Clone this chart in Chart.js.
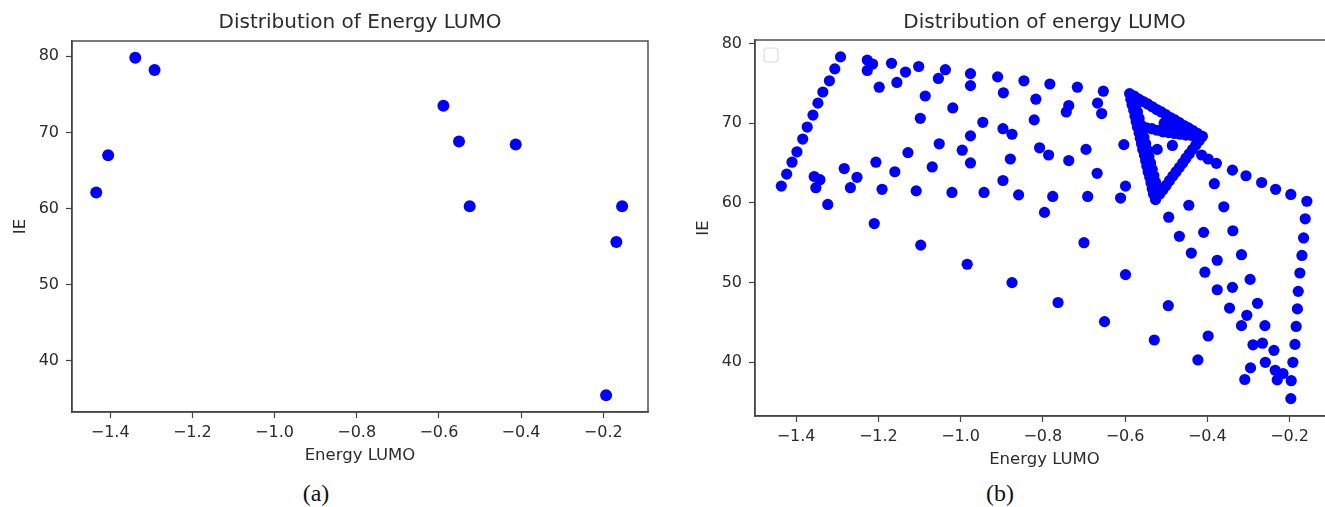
<!DOCTYPE html>
<html>
<head>
<meta charset="utf-8">
<script src="https://cdn.jsdelivr.net/npm/chart.js@4.4.1/dist/chart.umd.min.js"></script>
<style>
  html, body { margin: 0; padding: 0; background: #fff; width: 1325px; height: 507px; overflow: hidden; position: relative; }
  .box { position: absolute; top: 0; }
  .cap { position: absolute; top: 480px; font-family: "Liberation Serif", serif; font-size: 24px; color: #111; line-height: 26px; transform: translateX(-50%); }
</style>
</head>
<body>
<div class="box" style="left:0px;width:660px;height:466px;"><canvas id="ca" width="660" height="466"></canvas></div>
<div class="box" style="left:683px;width:663px;height:470px;"><canvas id="cb" width="663" height="470"></canvas></div>
<div class="cap" style="left:316px;">(a)</div>
<div class="cap" style="left:1000px;">(b)</div>
<script>
// ---- data ----
const titleA = 'Distribution of Energy LUMO';
const titleB = 'Distribution of energy LUMO';
const xLabel = 'Energy LUMO';
const yLabel = 'IE';
const xTickValues = [-1.4, -1.2, -1.0, -0.8, -0.6, -0.4, -0.2];
const xTickLabels = ['\u22121.4', '\u22121.2', '\u22121.0', '\u22120.8', '\u22120.6', '\u22120.4', '\u22120.2'];
const yTickValues = [40, 50, 60, 70, 80];
const yTickLabels = ['40', '50', '60', '70', '80'];

const aLumo = [-1.434, -1.405, -1.339, -1.292, -0.589, -0.551, -0.525, -0.413, -0.193, -0.168, -0.154];
const aIE   = [62.1, 67.0, 79.8, 78.2, 73.5, 68.8, 60.3, 68.4, 35.5, 55.6, 60.3];

const bLumo = [
  // left diagonal
  -1.436, -1.423, -1.410, -1.398, -1.384, -1.373, -1.359, -1.347, -1.335, -1.319, -1.306, -1.292,
  // left / middle region
  -1.356, -1.342, -1.352, -1.323, -1.283, -1.268, -1.252, -1.227, -1.214, -1.227, -1.206, -1.191,
  -1.210, -1.198, -1.168, -1.155, -1.160, -1.134, -1.128, -1.102, -1.108, -1.086, -1.098, -1.097,
  -1.069, -1.054, -1.037, -1.052, -1.019, -1.021, -0.996, -0.984, -0.976, -0.976, -0.976, -0.976,
  -0.946, -0.943, -0.910, -0.896, -0.897, -0.875, -0.879, -0.897, -0.875, -0.859, -0.846, -0.817,
  -0.821, -0.808, -0.786, -0.796, -0.783, -0.776, -0.763, -0.737, -0.743, -0.737, -0.716, -0.695,
  -0.691, -0.700, -0.667, -0.657, -0.653, -0.668, -0.650, -0.603, -0.599, -0.611, -0.599,
  // right region
  -0.529, -0.494, -0.495, -0.468, -0.445, -0.439, -0.409, -0.406, -0.398, -0.423, -0.383, -0.360,
  -0.376, -0.376, -0.338, -0.339, -0.346, -0.317, -0.317, -0.304, -0.296, -0.295, -0.309, -0.289,
  -0.278, -0.266, -0.260, -0.259, -0.238, -0.235, -0.216, -0.230,
  // dotted line after the triangle
  -0.414, -0.398, -0.378, -0.339, -0.306, -0.268, -0.234, -0.197, -0.158,
  // right vertical line
  -0.162, -0.166, -0.170, -0.175, -0.179, -0.181, -0.184, -0.187, -0.192, -0.196, -0.197,
  // triangle: top edge
  -0.589, -0.578, -0.567, -0.556, -0.545, -0.534, -0.523, -0.512, -0.501, -0.490, -0.479, -0.468,
  -0.457, -0.446, -0.435, -0.424, -0.412,
  // triangle: left edge (outer)
  -0.586, -0.583, -0.579, -0.576, -0.573, -0.570, -0.566, -0.563, -0.560, -0.557, -0.553, -0.550,
  -0.547, -0.544, -0.540, -0.537, -0.534, -0.531, -0.526,
  // triangle: left edge (inner)
  -0.574, -0.570, -0.566, -0.562, -0.558, -0.554, -0.550, -0.546, -0.542, -0.538, -0.534, -0.530,
  -0.526, -0.521,
  // triangle: right edge
  -0.420, -0.428, -0.436, -0.444, -0.452, -0.460, -0.468, -0.476, -0.484, -0.492, -0.500, -0.508, -0.516,
  // triangle: inner band and dots
  -0.548, -0.535, -0.522, -0.508, -0.494, -0.480, -0.466, -0.452, -0.438, -0.425, -0.485, -0.522,
  -0.505, -0.490, -0.475, -0.460, -0.445
];
const bIE = [
  62.1, 63.6, 65.1, 66.4, 68.0, 69.5, 71.0, 72.5, 73.9, 75.3, 76.8, 78.3,
  63.3, 62.9, 61.9, 59.8, 64.3, 61.9, 63.2, 77.9, 77.4, 76.6, 65.1, 61.7,
  57.4, 74.5, 77.5, 75.1, 63.9, 76.4, 66.3, 77.1, 61.5, 73.4, 70.6, 54.7,
  64.5, 75.6, 76.7, 67.4, 71.9, 61.3, 66.6, 52.3, 76.2, 74.7, 68.4, 65.0,
  70.1, 61.3, 75.8, 73.8, 69.3, 68.6, 65.5, 62.8, 50.0, 61.0, 75.3, 73.0,
  70.4, 66.9, 66.0, 58.8, 74.9, 60.8, 47.5, 72.2, 71.4, 65.3, 74.5, 66.7,
  60.8, 55.0, 72.5, 71.2, 74.0, 63.7, 45.1, 67.3, 62.1, 60.6, 51.0,
  42.8, 58.2, 47.1, 55.8, 59.7, 53.7, 56.3, 51.3, 43.3, 40.3, 62.4, 59.5,
  52.8, 49.1, 56.5, 49.4, 46.8, 53.5, 44.6, 45.9, 50.4, 39.3, 37.85, 42.2,
  47.4, 42.4, 44.6, 40.0, 41.5, 39.0, 38.6, 37.8,
  66.0, 65.5, 64.95, 64.1, 63.4, 62.55, 61.7, 61.05, 60.2,
  58.0, 55.6, 53.4, 51.2, 48.9, 46.7, 44.5, 42.25, 40.0, 37.7, 35.45,
  73.7, 73.4, 73.0, 72.7, 72.4, 72.05, 71.7, 71.4, 71.05, 70.7, 70.4, 70.05,
  69.7, 69.4, 69.05, 68.7, 68.35,
  73.0, 72.3, 71.6, 70.9, 70.2, 69.5, 68.8, 68.1, 67.4, 66.7, 66.0, 65.3,
  64.6, 63.9, 63.2, 62.5, 61.8, 61.1, 60.4,
  72.2, 71.4, 70.6, 69.8, 69.0, 68.2, 67.4, 66.6, 65.8, 65.0, 64.2, 63.4,
  62.6, 61.8,
  67.8, 67.25, 66.7, 66.15, 65.6, 65.0, 64.45, 63.9, 63.35, 62.8, 62.2, 61.65, 61.1,
  69.4, 69.3, 69.1, 68.9, 68.8, 68.7, 68.6, 68.5, 68.45, 68.4, 67.2, 66.7,
  70.0, 69.8, 69.6, 69.3, 69.0
];

// ---- helpers ----
const TXT = '#2b2b2b';
const AX = '#444';
const FONT = 'DejaVu Sans';

const framePlugin = {
  id: 'frame',
  afterDatasetsDraw(chart, args, opts) {
    const { ctx, chartArea: { left, top, right, bottom } } = chart;
    ctx.save();
    ctx.strokeStyle = AX;
    ctx.lineWidth = 1.4;
    ctx.strokeRect(left, top, right - left, bottom - top);
    if (opts && opts.emptyLegend) {
      const x = left + 9, y = top + 8, w = 14, h = 14, r = 3;
      ctx.strokeStyle = '#dcdcdc';
      ctx.lineWidth = 1.2;
      ctx.beginPath();
      ctx.moveTo(x + r, y);
      ctx.arcTo(x + w, y, x + w, y + h, r);
      ctx.arcTo(x + w, y + h, x, y + h, r);
      ctx.arcTo(x, y + h, x, y, r);
      ctx.arcTo(x, y, x + w, y, r);
      ctx.closePath();
      ctx.stroke();
    }
    ctx.restore();
  }
};

function makeChart(id, xs, ys, title, xMin, xMax, yMin, yMax, radius, emptyLegend) {
  const pts = xs.map((x, i) => ({ x: x, y: ys[i] }));
  return new Chart(document.getElementById(id), {
    type: 'scatter',
    data: { datasets: [{ data: pts, backgroundColor: '#0000ff', borderWidth: 0, pointRadius: radius, pointHoverRadius: radius }] },
    options: {
      responsive: false,
      animation: false,
      events: [],
      layout: { padding: { left: 0, right: 12, top: 0, bottom: 0 } },
      plugins: {
        legend: { display: false },
        tooltip: { enabled: false },
        title: {
          display: true, text: title, color: TXT, fullSize: false,
          font: { family: FONT, size: 20, weight: 'normal' },
          padding: { top: 11, bottom: id === 'ca' ? 6 : 5 }
        },
        frame: { emptyLegend: emptyLegend }
      },
      scales: {
        x: {
          type: 'linear', min: xMin, max: xMax,
          afterBuildTicks: s => { s.ticks = xTickValues.map(v => ({ value: v })); },
          afterFit: s => { s.height = 54; },
          ticks: {
            color: TXT, font: { family: FONT, size: 16 }, padding: 5, maxRotation: 0,
            callback: (v) => { const i = xTickValues.findIndex(t => Math.abs(t - v) < 1e-9); return i >= 0 ? xTickLabels[i] : ''; }
          },
          grid: { drawOnChartArea: false, drawTicks: true, tickLength: 6, tickColor: AX, tickWidth: 1.2 },
          border: { display: true, color: AX, width: 1.4 },
          title: { display: true, text: xLabel, color: TXT, font: { family: FONT, size: 16.5 }, padding: { top: 0, bottom: 0 } }
        },
        y: {
          type: 'linear', min: yMin, max: yMax,
          afterBuildTicks: s => { s.ticks = yTickValues.map(v => ({ value: v })); },
          afterFit: s => { s.width = 72; },
          ticks: {
            color: TXT, font: { family: FONT, size: 16 }, padding: 7,
            callback: (v) => { const i = yTickValues.indexOf(v); return i >= 0 ? yTickLabels[i] : ''; }
          },
          grid: { drawOnChartArea: false, drawTicks: true, tickLength: 6, tickColor: AX, tickWidth: 1.2 },
          border: { display: true, color: AX, width: 1.4 },
          title: { display: true, text: yLabel, color: TXT, font: { family: FONT, size: 16.5 }, padding: { top: 11, bottom: 0 } }
        }
      }
    },
    plugins: [framePlugin]
  });
}

makeChart('ca', aLumo, aIE, titleA, -1.493, -0.091, 33.3, 82.0, 6, false);
makeChart('cb', bLumo, bIE, titleB, -1.5, -0.092, 33.27, 80.42, 5.6, true);
</script>
</body>
</html>
